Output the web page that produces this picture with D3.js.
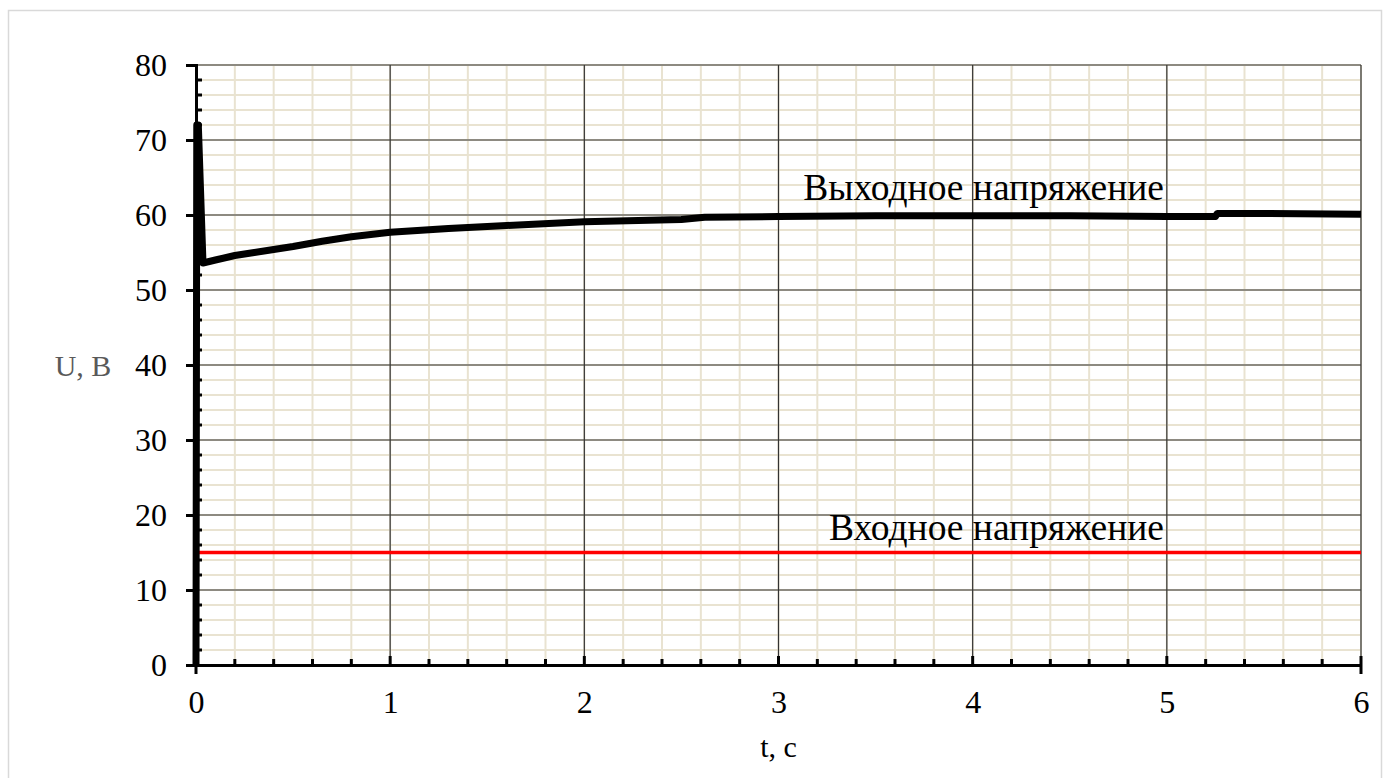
<!DOCTYPE html>
<html>
<head>
<meta charset="utf-8">
<script src="https://cdn.jsdelivr.net/npm/d3@7"></script>
<style>
  body { margin: 0; background: #fff; }
  text { font-family: "Liberation Serif", "Times New Roman", serif; }
</style>
</head>
<body>
<div id="chart"></div>
<script>
// time, s
const tOut = [0, 0.004, 0.012, 0.036, 0.1, 0.2, 0.3, 0.4, 0.5, 0.65, 0.8, 1.0, 1.3, 1.6, 2.0, 2.5, 2.62, 3.0, 3.5, 4.0, 4.5, 5.0, 5.25, 5.26, 5.5, 6.0];
// output voltage, V
const uOut = [0, 72, 72, 53.6, 54.0, 54.6, 55.0, 55.4, 55.8, 56.5, 57.1, 57.7, 58.2, 58.6, 59.1, 59.4, 59.7, 59.8, 59.9, 59.9, 59.9, 59.8, 59.8, 60.2, 60.2, 60.1];
// input voltage
const tIn = [0, 6];
const uIn = [15, 15];

const xTicks = [0, 1, 2, 3, 4, 5, 6];
const yTicks = [0, 10, 20, 30, 40, 50, 60, 70, 80];
const labelOut = "Выходное напряжение";
const labelIn = "Входное напряжение";

const W = 1389, H = 778;
const pLeft = 196, pRight = 1361, pTop = 65, pBottom = 665;
const serif = '"Liberation Serif", "Times New Roman", serif';

const svg = d3.select("#chart").append("svg")
    .attr("width", W)
    .attr("height", H);

// outer frame
svg.append("rect")
    .attr("x", 8.5).attr("y", 10.5)
    .attr("width", 1373).attr("height", 780)
    .attr("fill", "#fff")
    .attr("stroke", "#d9d9d9")
    .attr("stroke-width", 1.5);

const x = d3.scaleLinear().domain([0, 6]).range([pLeft, pRight]);
const y = d3.scaleLinear().domain([0, 80]).range([pBottom, pTop]);

// minor grid
const xMinor = d3.range(0, 6.001, 0.2);
const yMinor = d3.range(0, 80.001, 2);
svg.append("g").selectAll("line").data(xMinor).join("line")
    .attr("x1", d => x(d)).attr("x2", d => x(d))
    .attr("y1", pTop).attr("y2", pBottom)
    .attr("stroke", "#e9e3d1").attr("stroke-width", 2);
svg.append("g").selectAll("line").data(yMinor).join("line")
    .attr("x1", pLeft).attr("x2", pRight)
    .attr("y1", d => y(d)).attr("y2", d => y(d))
    .attr("stroke", "#e9e3d1").attr("stroke-width", 2);

// major grid
svg.append("g").selectAll("line").data(xTicks).join("line")
    .attr("x1", d => x(d)).attr("x2", d => x(d))
    .attr("y1", pTop).attr("y2", pBottom)
    .attr("stroke", "#333").attr("stroke-width", 1.2);
svg.append("g").selectAll("line").data(yTicks).join("line")
    .attr("x1", pLeft).attr("x2", pRight)
    .attr("y1", d => y(d)).attr("y2", d => y(d))
    .attr("stroke", "#333").attr("stroke-width", 1.2);

// lines
const lineIn = d3.line().x((d, i) => x(tIn[i])).y(d => y(d));
svg.append("path")
    .datum(uIn)
    .attr("d", lineIn)
    .attr("fill", "none")
    .attr("stroke", "#ff0000")
    .attr("stroke-width", 3.5);

const lineOut = d3.line().x((d, i) => x(tOut[i])).y(d => y(d));
svg.append("path")
    .datum(uOut)
    .attr("d", lineOut)
    .attr("fill", "none")
    .attr("stroke", "#000")
    .attr("stroke-width", 7)
    .attr("stroke-linejoin", "round");

// x axis
const xAxis = d3.axisBottom(x).tickValues(xTicks).tickFormat(d3.format("d")).tickSize(0).tickPadding(25);
const gx = svg.append("g")
    .attr("transform", "translate(0," + pBottom + ")")
    .call(xAxis)
    .attr("font-family", serif)
    .attr("font-size", 32);
gx.select(".domain").attr("stroke", "#000").attr("stroke-width", 3);
gx.selectAll("text").style("font-family", serif).style("font-size", "32px").attr("fill", "#000");
// inward ticks
gx.append("g").selectAll("line").data(xMinor).join("line")
    .attr("x1", d => x(d)).attr("x2", d => x(d))
    .attr("y1", 0).attr("y2", d => Math.abs(d - Math.round(d)) < 1e-6 ? -9 : -6)
    .attr("stroke", "#000").attr("stroke-width", 3);
gx.append("g").selectAll("line").data([0, 6]).join("line")
    .attr("x1", d => x(d)).attr("x2", d => x(d))
    .attr("y1", 0).attr("y2", 9)
    .attr("stroke", "#000").attr("stroke-width", 3);

// y axis
const yAxis = d3.axisLeft(y).tickValues(yTicks).tickFormat(d3.format("d")).tickSize(10).tickPadding(19);
const gy = svg.append("g")
    .attr("transform", "translate(" + pLeft + ",0)")
    .call(yAxis)
    .attr("font-family", serif)
    .attr("font-size", 32);
gy.select(".domain").attr("stroke", "#000").attr("stroke-width", 3);
gy.selectAll(".tick line").attr("stroke", "#000").attr("stroke-width", 3);
gy.selectAll("text").style("font-family", serif).style("font-size", "32px").attr("fill", "#000");
gy.append("g").selectAll("line").data(yMinor.filter(d => d % 10 !== 0)).join("line")
    .attr("x1", 0).attr("x2", 6)
    .attr("y1", d => y(d)).attr("y2", d => y(d))
    .attr("stroke", "#000").attr("stroke-width", 3);

// axis titles
svg.append("text")
    .attr("x", 83).attr("y", y(40))
    .attr("dy", "0.35em")
    .attr("text-anchor", "middle")
    .attr("font-size", 30)
    .attr("fill", "#595959")
    .text("U, В");
svg.append("text")
    .attr("x", (pLeft + pRight) / 2).attr("y", 757)
    .attr("text-anchor", "middle")
    .attr("font-size", 30)
    .attr("fill", "#000")
    .text("t, с");

// series labels
svg.append("text")
    .attr("x", 1164).attr("y", 200)
    .attr("text-anchor", "end")
    .attr("font-size", 37.5)
    .attr("fill", "#000")
    .text(labelOut);
svg.append("text")
    .attr("x", 1164).attr("y", 540)
    .attr("text-anchor", "end")
    .attr("font-size", 37.5)
    .attr("fill", "#000")
    .text(labelIn);
</script>
</body>
</html>
